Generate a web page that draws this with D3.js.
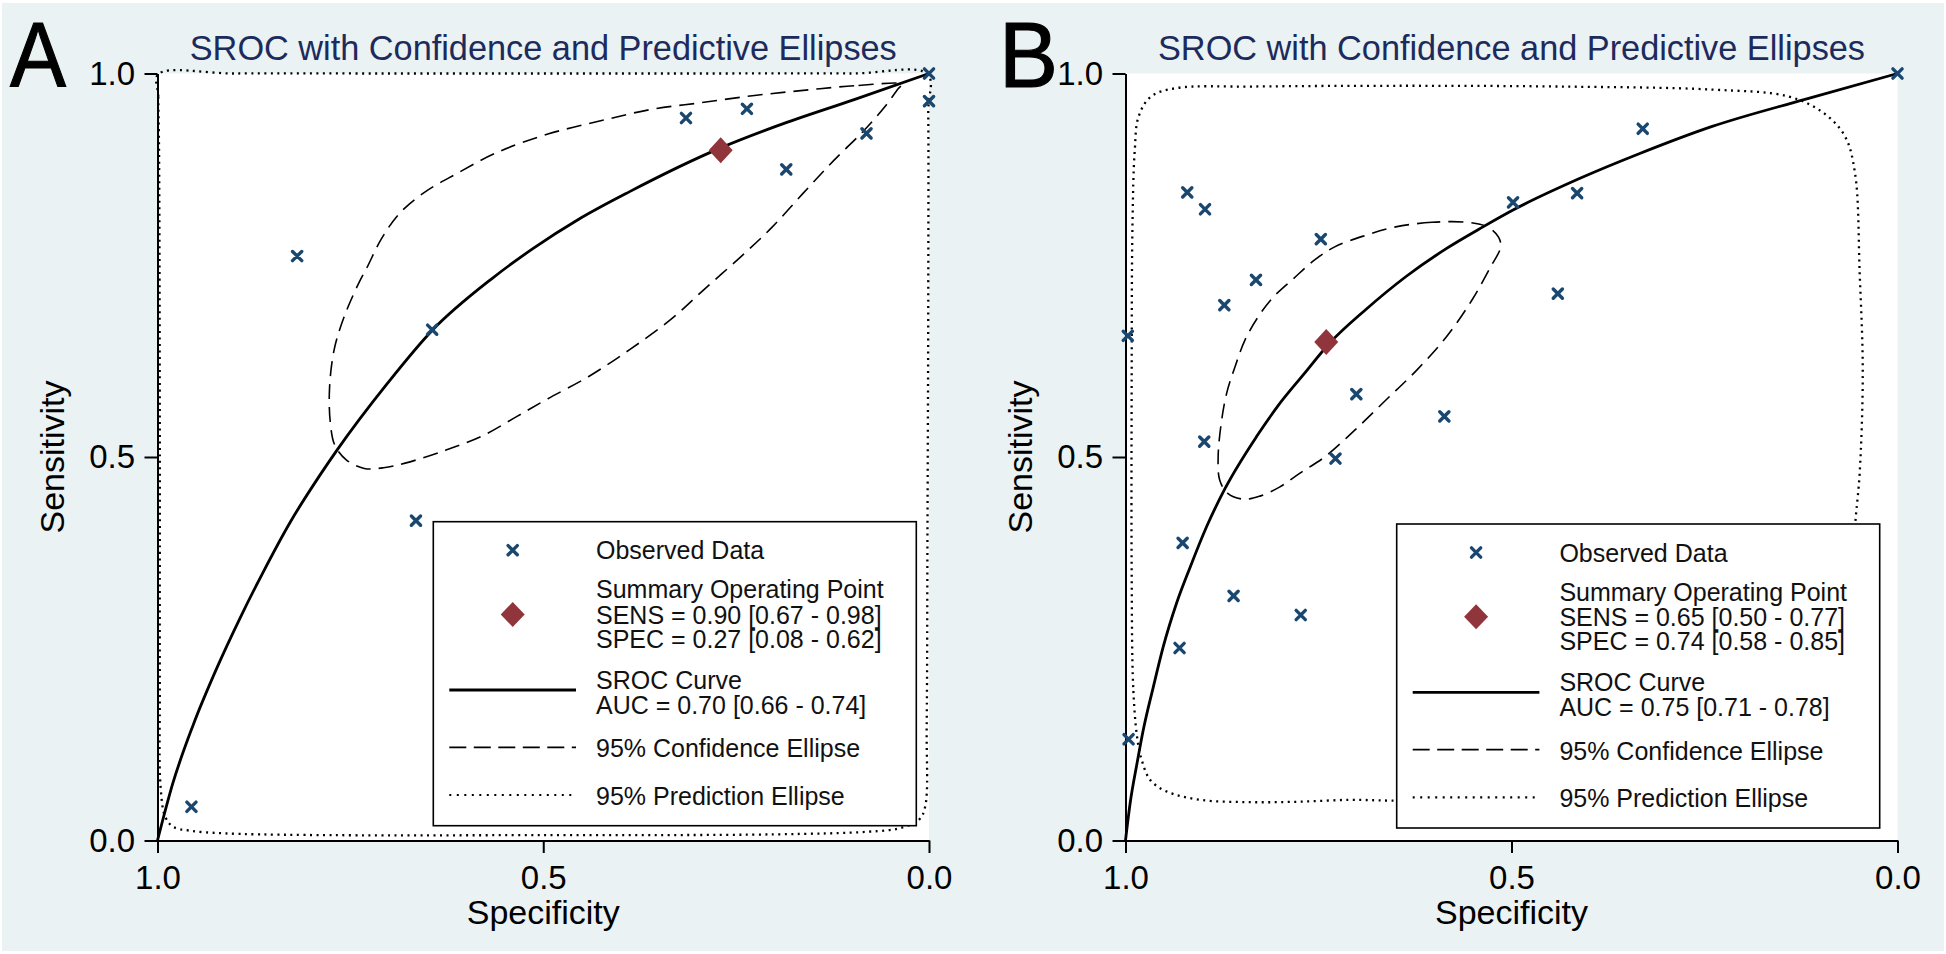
<!DOCTYPE html>
<html><head><meta charset="utf-8">
<script src="https://cdn.jsdelivr.net/npm/d3@7/dist/d3.min.js"></script>
<style>
html,body{margin:0;padding:0;background:#fff;}
svg{display:block;}
</style></head><body>
<svg id="chart" width="1946" height="954"></svg>
<script>
// ---------------- DATA ----------------
const specTicks = [1.0, 0.5, 0.0];
const sensTicks = [0.0, 0.5, 1.0];
const titleText = "SROC with Confidence and Predictive Ellipses";
const xTitle = "Specificity";
const yTitle = "Sensitivity";
const panelLabels = ["A", "B"];

// Panel A  (pairs are [specificity, sensitivity])
const obsA = [[0.0,1.0],[0.0,0.964],[0.315,0.942],[0.236,0.954],[0.185,0.875],[0.081,0.922],
  [0.819,0.762],[0.644,0.666],[0.665,0.417],[0.956,0.044]];
const summaryA = [0.27, 0.90];
const srocA = [[1.0,0.0],[0.980,0.075],[0.954,0.150],[0.923,0.225],[0.893,0.290],[0.863,0.350],
  [0.828,0.415],[0.789,0.477],[0.768,0.508],[0.702,0.596],[0.644,0.665],[0.566,0.733],[0.513,0.772],
  [0.454,0.810],[0.388,0.846],[0.27,0.903],[0.196,0.932],[0.097,0.966],[0.0,1.0]];
const confA = [[0.035,0.986],[0.097,0.984],[0.163,0.978],[0.229,0.971],[0.295,0.962],[0.361,0.953],
  [0.427,0.938],[0.494,0.921],[0.560,0.897],[0.613,0.869],[0.654,0.845],[0.686,0.818],[0.710,0.784],
  [0.728,0.748],[0.739,0.727],[0.758,0.683],[0.771,0.640],[0.777,0.590],[0.776,0.545],[0.770,0.515],
  [0.755,0.496],[0.732,0.485],[0.707,0.486],[0.679,0.492],[0.626,0.509],[0.578,0.528],[0.534,0.553],
  [0.494,0.576],[0.441,0.605],[0.388,0.640],[0.335,0.679],[0.292,0.718],[0.244,0.761],[0.203,0.800],
  [0.163,0.844],[0.123,0.887],[0.084,0.926],[0.057,0.957],[0.040,0.980]];
const predA = [[0.998,0.90],[0.999,0.97],[0.999,0.999],[0.9,1.0],[0.7,1.0],[0.5,1.0],[0.3,1.0],[0.1,1.0],
  [0.002,0.999],[0.001,0.95],[0.001,0.7],[0.002,0.4],[0.003,0.15],[0.005,0.044],[0.013,0.027],
  [0.038,0.016],[0.078,0.0115],[0.2,0.008],[0.5,0.007],[0.807,0.0072],[0.915,0.0094],[0.958,0.0128],
  [0.980,0.018],[0.990,0.031],[0.996,0.07],[0.997,0.2],[0.997,0.5]];
const legendA = ["Observed Data","Summary Operating Point","SENS = 0.90 [0.67 - 0.98]",
  "SPEC = 0.27 [0.08 - 0.62]","SROC Curve","AUC = 0.70 [0.66 - 0.74]",
  "95% Confidence Ellipse","95% Prediction Ellipse"];

// Panel B
const obsB = [[0.0,1.0],[0.330,0.928],[0.415,0.844],[0.498,0.832],[0.920,0.845],[0.897,0.823],
  [0.747,0.784],[0.831,0.731],[0.872,0.698],[0.440,0.713],[0.997,0.658],[0.701,0.582],[0.587,0.553],
  [0.898,0.520],[0.728,0.498],[0.926,0.388],[0.860,0.319],[0.773,0.294],[0.930,0.251],[0.996,0.132]];
const summaryB = [0.74, 0.65];
const srocB = [[1.0,0.0],[0.994,0.0485],[0.985,0.101],[0.977,0.144],[0.964,0.200],[0.951,0.253],
  [0.934,0.309],[0.916,0.357],[0.895,0.409],[0.871,0.459],[0.830,0.527],[0.803,0.566],[0.769,0.608],
  [0.736,0.648],[0.689,0.692],[0.637,0.735],[0.584,0.772],[0.537,0.800],[0.498,0.822],[0.412,0.863],
  [0.333,0.896],[0.240,0.931],[0.121,0.966],[0.0,1.0]];
const confB = [[0.557,0.806],[0.603,0.806],[0.650,0.800],[0.689,0.789],[0.729,0.774],[0.755,0.757],
  [0.782,0.733],[0.808,0.709],[0.828,0.683],[0.845,0.653],[0.858,0.618],[0.869,0.583],[0.876,0.544],
  [0.880,0.500],[0.878,0.470],[0.868,0.453],[0.847,0.445],[0.826,0.449],[0.800,0.461],[0.774,0.479],
  [0.742,0.500],[0.703,0.535],[0.663,0.574],[0.623,0.613],[0.584,0.657],[0.551,0.705],[0.527,0.748],
  [0.514,0.774],[0.517,0.787],[0.531,0.800]];
const predB = [[0.985,0.135],[0.990,0.2],[0.992,0.35],[0.992,0.6],[0.991,0.8],[0.988,0.9],[0.983,0.944],
  [0.967,0.970],[0.934,0.981],[0.835,0.983],[0.637,0.984],[0.438,0.983],[0.240,0.979],[0.141,0.970],
  [0.095,0.948],[0.068,0.918],[0.055,0.870],[0.049,0.740],[0.045,0.610],[0.049,0.479],[0.054,0.422],
  [0.060,0.350],[0.075,0.250],[0.100,0.150],[0.150,0.090],[0.250,0.060],[0.400,0.052],[0.550,0.051],
  [0.657,0.052],[0.709,0.053],[0.774,0.0506],[0.839,0.050],[0.903,0.053],[0.947,0.064],[0.968,0.079],
  [0.979,0.105]];
const legendB = ["Observed Data","Summary Operating Point","SENS = 0.65 [0.50 - 0.77]",
  "SPEC = 0.74 [0.58 - 0.85]","SROC Curve","AUC = 0.75 [0.71 - 0.78]",
  "95% Confidence Ellipse","95% Prediction Ellipse"];

// ---------------- LAYOUT / STYLE ----------------
const FONT = "'Liberation Sans', Arial, Helvetica, sans-serif";
const BG = "#eaf2f3";
const NAVY = "#1a476f";
const MAROON = "#90353b";
const TITLE_COLOR = "#1c2b5c";
const plotTop = 73.5, plotBottom = 840.5;
const panels = [
  {label: panelLabels[0], left:157.5, right:929, labelX:10, labelW:56, legendX:433.3, legendY:521.7,
   obs:obsA, summary:summaryA, sroc:srocA, conf:confA, pred:predA, legend:legendA},
  {label: panelLabels[1], left:1125.5, right:1897.5, labelX:999, labelW:59, legendX:1396.7, legendY:524,
   obs:obsB, summary:summaryB, sroc:srocB, conf:confB, pred:predB, legend:legendB}
];

const svg = d3.select("#chart");
svg.append("rect").attr("x",0).attr("y",0).attr("width",1946).attr("height",954).attr("fill","#fff");
svg.append("rect").attr("x",2).attr("y",3).attr("width",1942).attr("height",948).attr("fill",BG);

function xMarker(s){ return `M${-s},${-s}L${s},${s}M${-s},${s}L${s},${-s}`; }
function diamond(w,h){ return `M0,${-h}L${w},0L0,${h}L${-w},0Z`; }

panels.forEach(p => {
  const g = svg.append("g");
  const x = d3.scaleLinear().domain([1,0]).range([p.left, p.right]);
  const y = d3.scaleLinear().domain([0,1]).range([plotBottom, plotTop]);

  // plot region
  g.append("rect").attr("x",p.left).attr("y",plotTop)
    .attr("width",p.right-p.left).attr("height",plotBottom-plotTop).attr("fill","#fff");

  // panel letter
  g.append("text").attr("x",p.labelX).attr("y",87)
    .attr("font-family",FONT).attr("font-size",93).attr("fill","#000")
    .attr("stroke","#000").attr("stroke-width",1.2)
    .attr("textLength",p.labelW).attr("lengthAdjust","spacingAndGlyphs").text(p.label);

  // title
  g.append("text").attr("x",(p.left+p.right)/2).attr("y",60).attr("text-anchor","middle")
    .attr("font-family",FONT).attr("font-size",34.5).attr("fill",TITLE_COLOR)
    .attr("textLength",707).attr("lengthAdjust","spacingAndGlyphs").text(titleText);

  const lineGen = d3.line().x(d=>x(d[0])).y(d=>y(d[1]));

  // prediction ellipse (dotted)
  g.append("path").datum(p.pred)
    .attr("d", lineGen.curve(d3.curveCatmullRomClosed.alpha(0.5)))
    .attr("fill","none").attr("stroke","#000").attr("stroke-width",2.3)
    .attr("stroke-dasharray","2,4.5");

  // confidence ellipse (dashed)
  g.append("path").datum(p.conf)
    .attr("d", lineGen.curve(d3.curveCatmullRomClosed.alpha(0.5)))
    .attr("fill","none").attr("stroke","#000").attr("stroke-width",1.6)
    .attr("stroke-dasharray","15,8");

  // SROC curve
  g.append("path").datum(p.sroc)
    .attr("d", lineGen.curve(d3.curveMonotoneX))
    .attr("fill","none").attr("stroke","#000").attr("stroke-width",2.8);

  // axes
  const yAxis = d3.axisLeft(y).tickValues(sensTicks).tickFormat(d3.format(".1f"))
    .tickSize(13).tickSizeOuter(0).tickPadding(9.5);
  const xAxis = d3.axisBottom(x).tickValues(specTicks).tickFormat(d3.format(".1f"))
    .tickSize(12.5).tickSizeOuter(0).tickPadding(13);
  const ya = g.append("g").attr("transform",`translate(${p.left},0)`).call(yAxis);
  const xa = g.append("g").attr("transform",`translate(0,${plotBottom})`).call(xAxis);
  [ya, xa].forEach(a => {
    a.attr("font-family",FONT).attr("font-size",33);
    a.select(".domain").attr("stroke","#000").attr("stroke-width",2);
    a.selectAll(".tick line").attr("stroke","#000").attr("stroke-width",2);
    a.selectAll(".tick text").attr("fill","#000");
  });

  // axis titles
  g.append("text").attr("x",(p.left+p.right)/2).attr("y",923.5).attr("text-anchor","middle")
    .attr("font-family",FONT).attr("font-size",34).attr("fill","#000").text(xTitle);
  g.append("text").attr("transform",`translate(${p.left-93.5},${y(0.5)}) rotate(-90)`)
    .attr("text-anchor","middle").attr("font-family",FONT).attr("font-size",34)
    .attr("fill","#000").text(yTitle);

  // observed data
  g.selectAll("path.obs").data(p.obs).enter().append("path").attr("class","obs")
    .attr("transform",d=>`translate(${x(d[0])},${y(d[1])})`)
    .attr("d",xMarker(4.6)).attr("stroke",NAVY).attr("stroke-width",3.4)
    .attr("stroke-linecap","round").attr("fill","none");

  // summary point
  g.append("path").datum(p.summary)
    .attr("transform",d=>`translate(${x(d[0])},${y(d[1])})`)
    .attr("d",diamond(12,13)).attr("fill",MAROON);

  // legend
  const lx = p.legendX, ly = p.legendY;
  const lg = g.append("g");
  lg.append("rect").attr("x",lx).attr("y",ly).attr("width",483).attr("height",304)
    .attr("fill","#fff").attr("stroke","#000").attr("stroke-width",1.6);
  const rowOff = [28.5, 67.5, 92.8, 117.2, 158, 183, 226.7, 274.3];
  p.legend.forEach((t,i) => {
    lg.append("text").attr("x",lx+162.7).attr("y",ly+rowOff[i]+9)
      .attr("font-family",FONT).attr("font-size",25).attr("fill","#111").text(t);
  });
  lg.append("path").attr("transform",`translate(${lx+79.4},${ly+rowOff[0]})`)
    .attr("d",xMarker(4.6)).attr("stroke",NAVY).attr("stroke-width",3.4)
    .attr("stroke-linecap","round").attr("fill","none");
  lg.append("path").attr("transform",`translate(${lx+79.4},${ly+rowOff[2]})`)
    .attr("d",diamond(12,12.5)).attr("fill",MAROON);
  lg.append("line").attr("x1",lx+16).attr("x2",lx+142.7).attr("y1",ly+168.3).attr("y2",ly+168.3)
    .attr("stroke","#000").attr("stroke-width",2.8);
  lg.append("line").attr("x1",lx+16).attr("x2",lx+142.7).attr("y1",ly+225.6).attr("y2",ly+225.6)
    .attr("stroke","#000").attr("stroke-width",1.8).attr("stroke-dasharray","17,7.5");
  lg.append("line").attr("x1",lx+16).attr("x2",lx+142.7).attr("y1",ly+273.3).attr("y2",ly+273.3)
    .attr("stroke","#000").attr("stroke-width",2.2).attr("stroke-dasharray","2,5.5");
});
</script>
</body></html>
